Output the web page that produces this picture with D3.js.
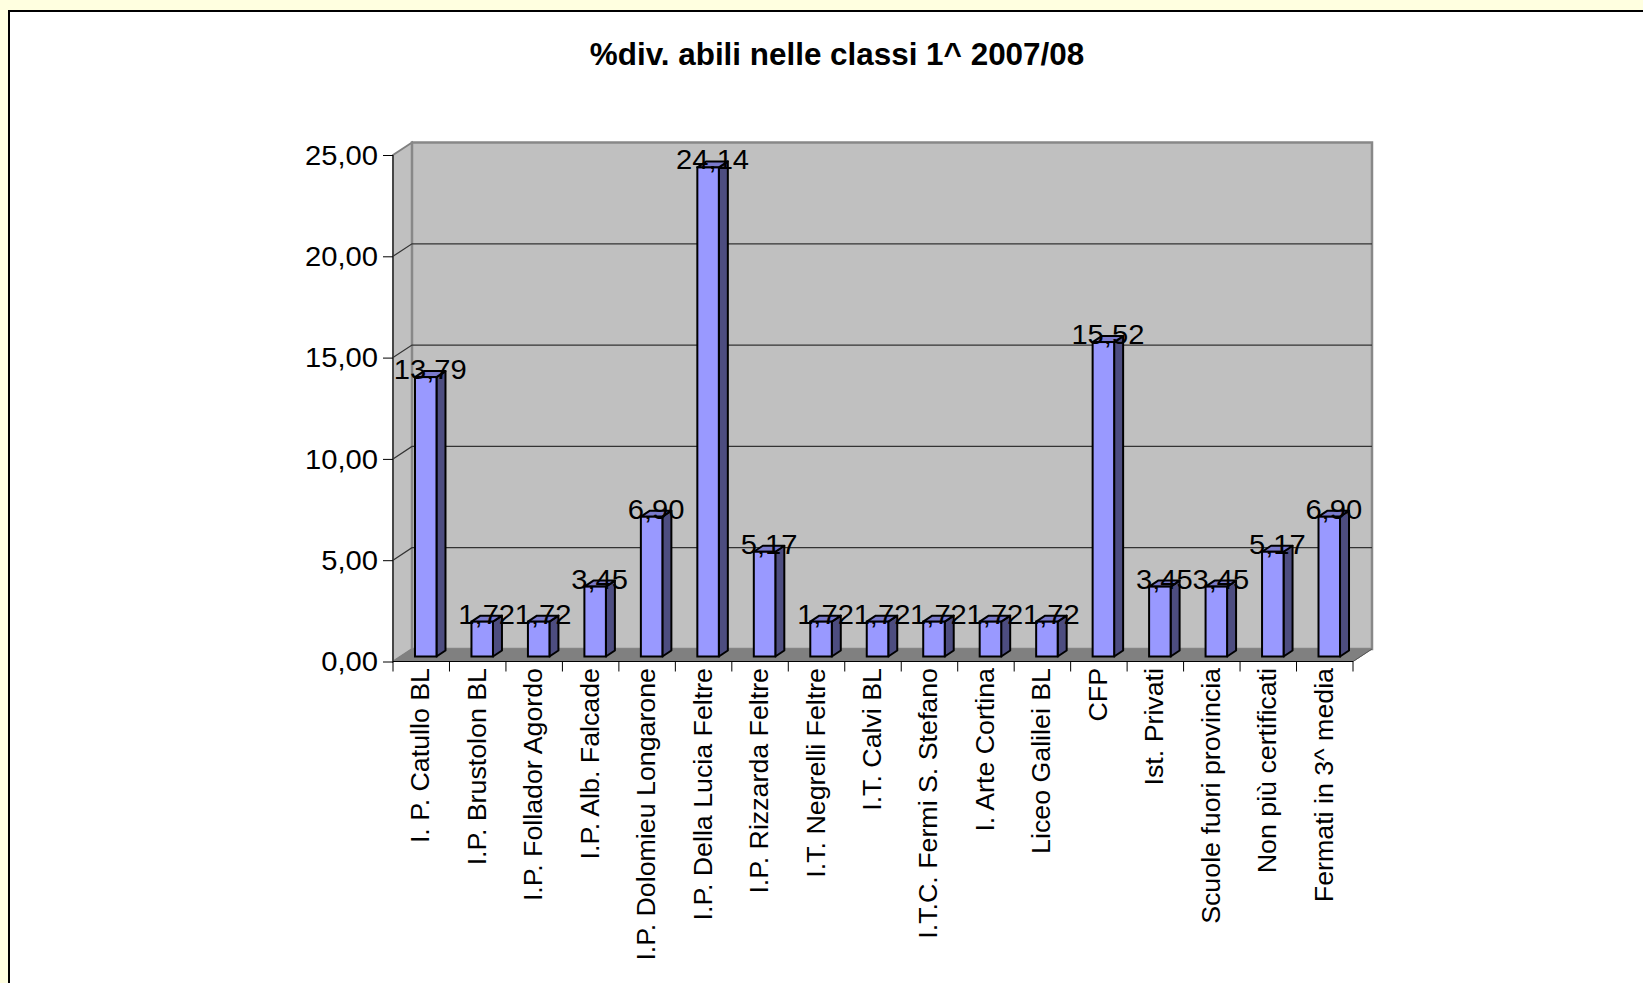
<!DOCTYPE html>
<html><head><meta charset="utf-8">
<script src="https://cdn.jsdelivr.net/npm/d3@7"></script>
<style>
html,body{margin:0;padding:0;background:#FFFFE0;overflow:hidden;}
text{font-family:"Liberation Sans",Arial,sans-serif;}
</style></head>
<body>
<svg id="c" width="1643" height="983"></svg>
<script>
const title = "%div. abili nelle classi 1^ 2007/08";
const categories = ["I. P. Catullo BL","I.P. Brustolon BL","I.P. Follador Agordo","I.P. Alb. Falcade","I.P. Dolomieu Longarone","I.P. Della Lucia Feltre","I.P. Rizzarda Feltre","I.T. Negrelli Feltre","I.T. Calvi BL","I.T.C. Fermi S. Stefano","I. Arte Cortina","Liceo Galilei BL","CFP","Ist. Privati","Scuole fuori provincia","Non più certificati","Fermati in 3^ media"];
const values = [13.79,1.72,1.72,3.45,6.90,24.14,5.17,1.72,1.72,1.72,1.72,1.72,15.52,3.45,3.45,5.17,6.90];
const yTicks = [0,5,10,15,20,25];

const svg = d3.select("#c");
const fmt = v => d3.format(".2f")(v).replace(".", ",");
const SX = 1.08;

// frame
svg.append("rect").attr("x",9).attr("y",11).attr("width",1700).attr("height",1100)
  .attr("fill","#fff").attr("stroke","#000").attr("stroke-width",2);

svg.append("text").attr("transform","translate(837,65) scale(1.03,1)").attr("text-anchor","middle")
  .attr("font-size",30.5).attr("font-weight","bold").text(title);

const x0 = 393, x1 = 1353, yBase = 661.5, yTop = 155;
const DX = 19, DY = -12.5;
const x = d3.scaleBand().domain(categories).range([x0, x1]).padding(0);
const y = d3.scaleLinear().domain([0,25]).range([yBase, yTop]);

// left side wall
svg.append("path").attr("d", `M${x0},${y(25)}L${x0+DX},${y(25)+DY}L${x0+DX},${yBase+DY}L${x0},${yBase}Z`)
  .attr("fill","#C0C0C0").attr("stroke","#808080").attr("stroke-width",2);
// back wall
svg.append("rect").attr("x",x0+DX).attr("y",y(25)+DY).attr("width",x1-x0).attr("height",yBase-y(25))
  .attr("fill","#C0C0C0").attr("stroke","#888").attr("stroke-width",2.5);
// floor
svg.append("path").attr("d", `M${x0},${yBase}L${x1},${yBase}L${x1+DX},${yBase+DY}L${x0+DX},${yBase+DY}Z`)
  .attr("fill","#808080").attr("stroke","#808080").attr("stroke-width",1);

// gridlines
yTicks.filter(t => t > 0 && t < 25).forEach(t => {
  svg.append("path").attr("d", `M${x0},${y(t)}L${x0+DX},${y(t)+DY}L${x1+DX},${y(t)+DY}`)
    .attr("fill","none").attr("stroke","#333").attr("stroke-width",1.2);
});

// y axis
svg.append("line").attr("x1",x0).attr("x2",x0).attr("y1",y(25)).attr("y2",yBase).attr("stroke","#333").attr("stroke-width",1.5);
const yAxis = d3.axisLeft(y).tickValues(yTicks).tickSize(10).tickFormat("");
const gy = svg.append("g").attr("transform",`translate(${x0},0)`).call(yAxis);
gy.select(".domain").remove();
gy.selectAll("line").attr("stroke","#000");
svg.selectAll(".yl").data(yTicks).enter().append("text")
  .attr("transform", d => `translate(378,${y(d)}) scale(${SX},1)`)
  .attr("dy","0.36em").attr("text-anchor","end").attr("font-size",27).text(fmt);

// x axis
const xAxis = d3.axisBottom(x).tickSize(0).tickFormat("");
const gx = svg.append("g").attr("transform",`translate(0,${yBase})`).call(xAxis);
gx.select(".domain").attr("stroke","#000").attr("d",`M${x0},0H${x1}`);
svg.append("line").attr("x1",x1).attr("y1",yBase).attr("x2",x1+DX).attr("y2",yBase+DY).attr("stroke","#555");
const bounds = categories.map(c => x(c)).concat([x1]);
svg.selectAll(".xt").data(bounds).enter().append("line")
  .attr("x1",d=>d).attr("x2",d=>d).attr("y1",yBase).attr("y2",yBase+10).attr("stroke","#000");

svg.selectAll(".xl").data(categories).enter().append("text")
  .attr("transform", d => `translate(${x(d)+x.bandwidth()/2+8},668) rotate(-90) scale(1.03,1)`)
  .attr("text-anchor","end").attr("font-size",26).text(d => d);

// bars
const bw = 21.5, bd = 9, bdy = -6, fdx = 8, fdy = -5;
const data = categories.map((c,i)=>({c, v: values[i]}));
const g = svg.append("g");
data.forEach(d => {
  const cx = x(d.c) + x.bandwidth()/2;
  const xl = cx - 6.25;
  const yb = yBase + fdy;
  const yt = y(d.v) + fdy;
  const bar = g.append("g");
  bar.append("path").attr("d",`M${xl+bw},${yt}L${xl+bw+bd},${yt+bdy}L${xl+bw+bd},${yb+bdy}L${xl+bw},${yb}Z`)
    .attr("fill","#4D4D80").attr("stroke","#000").attr("stroke-width",2).attr("stroke-linejoin","round");
  bar.append("path").attr("d",`M${xl},${yt}L${xl+bw},${yt}L${xl+bw+bd},${yt+bdy}L${xl+bd},${yt+bdy}Z`)
    .attr("fill","#7A7ACC").attr("stroke","#000").attr("stroke-width",2).attr("stroke-linejoin","round");
  bar.append("rect").attr("x",xl).attr("y",yt).attr("width",bw).attr("height",yb-yt)
    .attr("fill","#9999FF").attr("stroke","#000").attr("stroke-width",2);
});
svg.selectAll(".vl").data(data).enter().append("text")
  .attr("transform", d => `translate(${x(d.c) + x.bandwidth()/2 + 9},${y(d.v) + fdy + 2}) scale(${SX},1)`)
  .attr("text-anchor","middle").attr("font-size",27).text(d => fmt(d.v));
</script>
</body></html>
